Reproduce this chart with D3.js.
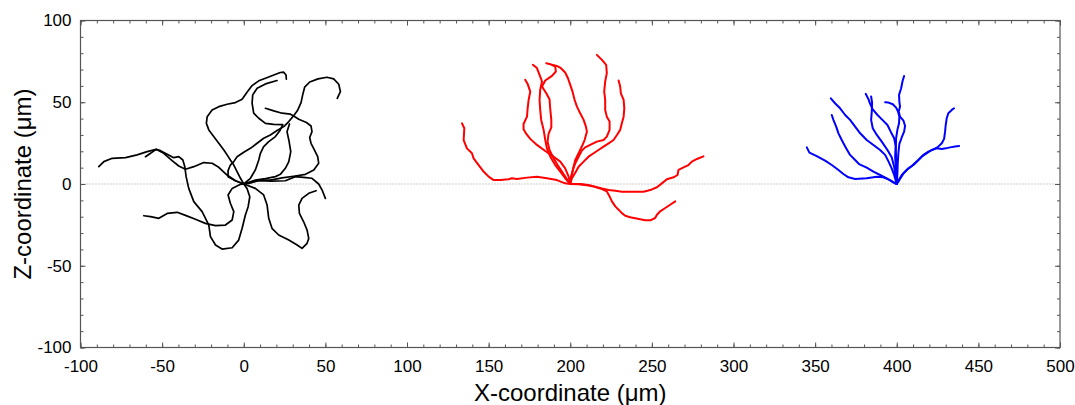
<!DOCTYPE html>
<html>
<head>
<meta charset="utf-8">
<script src="https://cdn.jsdelivr.net/npm/d3@7"></script>
<style>
  html, body { margin: 0; padding: 0; background: #fff; }
  svg { display: block; font-family: "Liberation Sans", Arial, sans-serif; }
</style>
</head>
<body>
<svg id="chart" width="1075" height="405"></svg>
<script>
// ---- data (µm) ----
const xDomain = [-100, 500];
const yDomain = [-100, 100];
const xTickValues = [-100, -50, 0, 50, 100, 150, 200, 250, 300, 350, 400, 450, 500];
const yTickValues = [-100, -50, 0, 50, 100];
const xTitle = "X-coordinate (\u03BCm)";
const yTitle = "Z-coordinate (\u03BCm)";

const blackTracks = [
  [[0,0],[-5.1,2.0],[-10.2,5.5],[-15.3,10.2],[-19.4,12.7],[-24.5,13.1],[-30.6,10.6],[-35.7,9.0],[-39.8,11.0],[-43.9,14.3],[-49.0,18.8],[-53.7,21.2],[-59.2,19.8],[-65.3,17.8],[-72.4,16.1],[-80.6,15.7],[-85.7,13.7],[-88.8,10.6]],
  [[0,0],[2.0,-2.7],[3.7,-7.8],[2.7,-13.9],[1.0,-19.0],[-1.0,-27.1],[-3.1,-34.3],[-7.1,-39.0],[-13.3,-39.8],[-17.3,-37.3],[-20.4,-32.2],[-21.4,-25.1],[-25.5,-16.9],[-30.6,-10.8],[-33.7,-2.7],[-35.3,4.5],[-36.1,10.6],[-37.3,14.7],[-39.8,16.7],[-42.9,16.1],[-46.9,18.2],[-51.0,20.4],[-53.7,21.2],[-57.1,18.8],[-60.2,16.7]],
  [[0,0],[-2.0,-0.2],[-7.1,-2.7],[-9.6,-6.7],[-8.2,-11.8],[-6.1,-16.9],[-7.1,-22.0],[-11.2,-25.1],[-17.3,-25.5],[-23.5,-24.1],[-29.6,-21.6],[-35.7,-19.2],[-40.8,-17.3],[-46.9,-18.0],[-52.0,-21.0],[-57.1,-20.0],[-61.2,-19.4]],
  [[0,0],[7.1,-2.7],[12.2,-6.7],[14.3,-12.9],[15.3,-21.0],[17.3,-27.1],[21.4,-31.2],[27.6,-34.3],[32.7,-37.3],[35.7,-39.4],[38.8,-36.3],[39.8,-33.3],[38.8,-28.2],[36.7,-23.1],[34.1,-18.0],[33.7,-12.9],[35.7,-8.8],[39.8,-5.7],[44.3,-4.1]],
  [[0,0],[-2.0,3.5],[-4.1,7.6],[-6.1,11.6],[-8.2,14.7],[-10.2,17.8],[-12.2,20.8],[-15.3,24.9],[-18.4,29.0],[-21.4,33.1],[-22.9,37.1],[-22.4,41.2],[-19.4,45.3],[-15.3,47.3],[-10.2,48.8],[-5.1,49.8],[-1.0,51.8],[2.0,56.1],[5.1,60.2],[9.2,63.1],[13.3,64.7],[18.4,66.7],[22.4,68.2],[24.5,68.4],[25.9,66.7],[26.1,64.1]],
  [[0,0],[4.1,3.5],[7.1,8.6],[9.2,14.7],[10.2,18.8],[12.2,22.9],[15.3,25.9],[19.4,29.0],[22.4,33.1],[23.9,36.3],[18.4,36.5],[13.3,37.1],[9.2,40.2],[6.1,43.3],[5.1,49.4],[5.5,54.5],[8.2,58.6],[13.3,61.2],[20.4,63.3]],
  [[0,0],[-5.1,2.0],[-9.6,4.5],[-9.6,8.2],[-8.2,11.6],[-6.1,13.7],[-4.1,16.7],[0,19.4],[4.1,21.8],[8.2,24.9],[12.2,28.0],[16.3,30.0],[20.4,32.7],[24.5,35.1],[27.6,38.2],[30.6,41.8],[33.1,45.3],[35.1,49.8],[36.1,54.5],[37.3,59.2],[40.4,62.4],[45.5,64.3],[51.0,65.3],[55.1,64.3],[58.2,61.0],[59.2,56.5],[57.3,52.4]],
  [[0,0],[5.1,1.2],[9.2,2.4],[16.3,2.4],[23.5,3.7],[31.6,4.9],[37.8,5.9],[42.9,8.6],[45.9,12.7],[45.3,16.7],[43.1,21.2],[41.2,24.9],[40.4,28.4],[41.8,32.0],[41.2,35.5],[38.4,37.6],[33.7,39.6],[30.6,41.6],[28.6,42.7],[23.5,43.3],[18.4,44.7],[13.3,46.3]],
  [[0,0],[3.1,0.4],[9.2,2.0],[17.3,1.8],[25.5,2.0],[31.6,4.5],[36.7,4.1],[41.8,3.5],[45.9,0],[48.0,-3.7],[50.0,-8.8]],
  [[0,0],[7.1,2.4],[13.3,3.3],[19.4,4.5],[22.4,5.9],[25.5,9.6],[27.6,13.7],[28.8,19.8],[27.8,25.9],[26.5,32.0],[28.0,36.7]]
];

const redTracks = [
  [[200,0],[196.9,0.4],[191.8,2.4],[185.7,3.5],[179.6,4.5],[173.5,3.9],[167.3,3.1],[164.3,3.5],[162.2,2.9],[157.1,2.4],[153.1,2.4],[150.0,4.5],[146.9,7.6],[143.9,11.6],[140.8,15.7],[139.8,18.8],[136.7,21.8],[134.7,26.9],[135.1,34.1],[133.7,37.1]],
  [[200,0],[199.0,4.5],[196.9,9.6],[193.9,13.7],[189.8,16.7],[184.7,20.2],[179.6,23.9],[175.5,27.6],[173.1,30.6],[171.4,33.5],[171.4,36.7],[173.5,41.2],[173.9,46.3],[174.5,51.4],[175.5,56.5],[173.9,61.2],[172.4,63.7]],
  [[200,0],[196.9,3.5],[193.9,7.6],[190.8,11.6],[187.8,16.7],[185.7,21.8],[184.7,26.9],[183.7,33.1],[182.2,39.2],[181.6,45.3],[181.2,51.4],[181.6,57.6],[182.7,62.7],[181.2,66.7],[179.6,70.9],[177.1,72.9]],
  [[200,0],[198.6,2.0],[196.3,5.5],[192.9,10.6],[189.8,15.7],[187.3,20.8],[186.1,25.9],[186.7,30.6],[188.4,34.7],[188.4,39.2],[187.8,45.3],[187.3,51.8],[185.3,55.5],[182.7,59.6],[184.7,63.3],[188.8,66.1],[191.2,68.8],[190.8,71.8],[187.8,73.3],[185.3,73.9]],
  [[200,0],[201.0,5.5],[202.0,10.6],[203.1,14.7],[205.1,18.8],[207.1,22.9],[208.8,26.9],[210.2,32.0],[209.6,35.1],[208.2,39.2],[206.1,43.3],[204.1,47.3],[202.7,51.4],[201.4,56.5],[200,60.6],[198.6,64.7],[196.9,68.2],[194.3,70.8],[191.8,72.2],[188.8,72.9]],
  [[200,0],[200.4,4.1],[201.6,8.6],[203.1,12.7],[205.1,16.7],[207.1,20.4],[209.2,22.4],[212.2,23.9],[216.3,25.9],[220.4,26.9],[222.4,29.0],[224.1,33.1],[224.1,38.2],[222.4,41.2],[221.4,45.3],[221.4,51.4],[220.8,56.5],[221.4,62.7],[222.4,67.8],[222.0,72.9],[219.4,75.9],[216.3,79.0]],
  [[200,0],[201.0,3.5],[203.1,6.9],[205.1,10.6],[208.2,13.7],[211.2,16.7],[214.3,18.8],[217.3,20.8],[220.4,22.9],[223.5,24.9],[226.5,26.9],[228.6,30.0],[230.6,33.1],[231.6,37.1],[232.7,41.2],[233.1,46.3],[232.7,51.4],[231.0,55.5],[230.6,59.6],[229.6,63.3]],
  [[200,0],[206.1,0],[211.2,-0.6],[215.3,-1.6],[219.4,-2.7],[223.5,-3.7],[227.6,-4.1],[231.6,-4.7],[236.7,-4.7],[240.8,-4.7],[244.9,-4.7],[249.0,-3.7],[253.1,-2.0],[256.1,0.4],[259.2,2.9],[263.3,4.1],[265.7,5.5],[266.3,8.6],[269.4,10.2],[272.4,11.6],[274.5,13.7],[277.6,15.3],[281.6,16.9]],
  [[200,0],[205.1,-0.2],[210.2,-0.8],[214.3,-1.6],[218.4,-2.7],[222.4,-4.5],[224.1,-7.6],[225.5,-10.6],[227.6,-13.7],[229.6,-15.7],[231.6,-17.8],[233.7,-19.4],[236.7,-20.3],[239.8,-20.9],[242.9,-21.6],[245.9,-22.2],[249.0,-22.2],[252.0,-20.8],[253.1,-18.8],[255.1,-16.7],[258.2,-14.7],[261.2,-12.7],[264.3,-10.6]]
];

const blueTracks = [
  [[400,0],[395.9,2.4],[391.8,4.1],[387.8,4.5],[381.6,3.5],[374.5,3.1],[370.4,4.1],[367.3,6.1],[364.3,8.6],[360.2,11.6],[356.1,14.3],[351.0,17.1],[346.5,19.2],[344.9,22.4]],
  [[400,0],[398.0,0.8],[393.9,3.5],[389.8,5.5],[385.7,7.6],[381.6,10.0],[376.9,12.2],[374.5,14.7],[371.4,17.8],[368.4,22.9],[366.3,26.9],[364.3,31.0],[362.9,35.1],[361.2,39.2],[360.2,42.2]],
  [[400,0],[399.6,1.4],[398.4,5.5],[396.9,9.6],[395.0,13.7],[392.9,17.8],[389.8,20.8],[385.7,23.9],[381.6,26.9],[377.6,31.0],[374.5,35.1],[371.4,39.2],[368.4,42.2],[365.3,46.3],[362.2,49.4],[359.6,52.4]],
  [[400,0],[399.6,4.5],[399.4,10.6],[399.0,16.7],[399.4,22.9],[398.4,28.0],[396.3,32.0],[394.3,36.1],[391.2,39.2],[388.2,42.2],[385.3,45.7],[383.7,49.0],[382.7,51.8],[381.0,55.1]],
  [[400,0],[399.2,4.9],[398.4,10.6],[396.9,16.3],[394.3,20.8],[390.8,25.9],[387.8,30.0],[385.3,34.1],[384.3,39.2],[384.7,44.3],[384.9,49.8],[384.3,53.5]],
  [[400,0],[400.4,6.5],[400.6,12.7],[401.0,18.8],[401.6,24.5],[403.1,28.6],[404.5,32.0],[405.1,35.5],[404.1,38.8],[402.0,41.2],[401.2,44.3],[402.0,47.3],[401.6,50.4],[401.4,54.5],[402.7,58.6],[403.5,62.7],[404.5,66.1]],
  [[400,0],[400,4.5],[400,9.6],[399.6,15.7],[399.4,21.8],[399.6,28.0],[400.4,33.1],[401.4,37.1],[401.6,41.2],[400.8,44.3],[399.6,46.7],[397.6,48.8],[394.9,49.8],[392.9,50.0]],
  [[400,0],[401.6,2.4],[404.1,6.5],[407.1,9.6],[410.2,11.6],[413.3,14.7],[416.3,17.8],[419.4,19.8],[422.4,21.2],[424.9,22.4],[427.6,24.9],[429.0,27.6],[429.6,32.0],[430.0,36.1],[430.6,40.2],[431.6,43.3],[433.7,45.3],[435.1,46.3]],
  [[400,0],[401.0,2.0],[403.1,5.5],[406.1,8.6],[409.2,11.0],[412.2,13.7],[415.3,16.7],[418.4,18.8],[421.4,20.8],[424.5,21.8],[427.6,21.4],[430.0,21.8],[432.7,22.4],[435.7,22.9],[438.2,23.3]]
];

// ---- layout ----
const svg = d3.select("#chart");
const L = 80.5, R = 1060, T = 20.5, B = 347.5;
const x = d3.scaleLinear().domain(xDomain).range([L, R]);
const y = d3.scaleLinear().domain(yDomain).range([B, T]);
const axisColor = "#555555";
const fmt = d => String(d);   // plain hyphen-minus like the original

// zero dotted line
svg.append("line")
  .attr("x1", x(xDomain[0])).attr("x2", x(xDomain[1]))
  .attr("y1", y(0)).attr("y2", y(0))
  .attr("stroke", "#9a9a9a").attr("stroke-width", 1)
  .attr("stroke-dasharray", "1,2");

// tracks
const line = d3.line().x(d => x(d[0])).y(d => y(d[1]));
function drawGroup(tracks, color, width) {
  svg.append("g").selectAll("path").data(tracks).join("path")
    .attr("d", line)
    .attr("fill", "none")
    .attr("stroke", color)
    .attr("stroke-width", width)
    .attr("stroke-linejoin", "round")
    .attr("stroke-linecap", "round");
}
drawGroup(blackTracks, "#000000", 1.7);
drawGroup(redTracks, "#ff0000", 2);
drawGroup(blueTracks, "#0000ff", 2);

// axes (ticks inward on all four sides)
const xMinor = d3.range(xDomain[0], xDomain[1] + 1, 10);
const yMinor = d3.range(yDomain[0], yDomain[1] + 1, 10);

function styleAxis(g) {
  g.selectAll(".domain").remove();
  g.selectAll(".tick line").attr("stroke", axisColor).attr("stroke-width", 1);
}
function styleText(g) {
  g.selectAll("text").attr("font-size", 17).attr("fill", "#000")
    .attr("font-family", "'Liberation Sans', Arial, sans-serif");
}

// bottom
svg.append("g").attr("transform", `translate(0,${B})`)
  .call(d3.axisBottom(x).tickValues(xMinor).tickSize(-3).tickFormat(""))
  .call(styleAxis);
svg.append("g").attr("transform", `translate(0,${B})`)
  .call(d3.axisBottom(x).tickValues(xTickValues).tickSize(-5).tickPadding(12).tickFormat(fmt))
  .call(styleAxis).call(styleText);
// top
svg.append("g").attr("transform", `translate(0,${T})`)
  .call(d3.axisTop(x).tickValues(xMinor).tickSize(-3).tickFormat(""))
  .call(styleAxis);
svg.append("g").attr("transform", `translate(0,${T})`)
  .call(d3.axisTop(x).tickValues(xTickValues).tickSize(-5).tickFormat(""))
  .call(styleAxis);
// left
svg.append("g").attr("transform", `translate(${L},0)`)
  .call(d3.axisLeft(y).tickValues(yMinor).tickSize(-3).tickFormat(""))
  .call(styleAxis);
svg.append("g").attr("transform", `translate(${L},0)`)
  .call(d3.axisLeft(y).tickValues(yTickValues).tickSize(-5).tickPadding(9).tickFormat(fmt))
  .call(styleAxis).call(styleText);
// right
svg.append("g").attr("transform", `translate(${R},0)`)
  .call(d3.axisRight(y).tickValues(yMinor).tickSize(-3).tickFormat(""))
  .call(styleAxis);
svg.append("g").attr("transform", `translate(${R},0)`)
  .call(d3.axisRight(y).tickValues(yTickValues).tickSize(-5).tickFormat(""))
  .call(styleAxis);

// frame
svg.append("rect")
  .attr("x", L).attr("y", T).attr("width", R - L).attr("height", B - T)
  .attr("fill", "none").attr("stroke", axisColor).attr("stroke-width", 1.2);

// titles
svg.append("text")
  .attr("x", (L + R) / 2).attr("y", 401)
  .attr("text-anchor", "middle")
  .attr("font-size", 24).attr("fill", "#000")
  .text(xTitle);
svg.append("text")
  .attr("transform", `translate(31,${(T + B) / 2}) rotate(-90)`)
  .attr("text-anchor", "middle")
  .attr("font-size", 24).attr("fill", "#000")
  .text(yTitle);
</script>
</body>
</html>
